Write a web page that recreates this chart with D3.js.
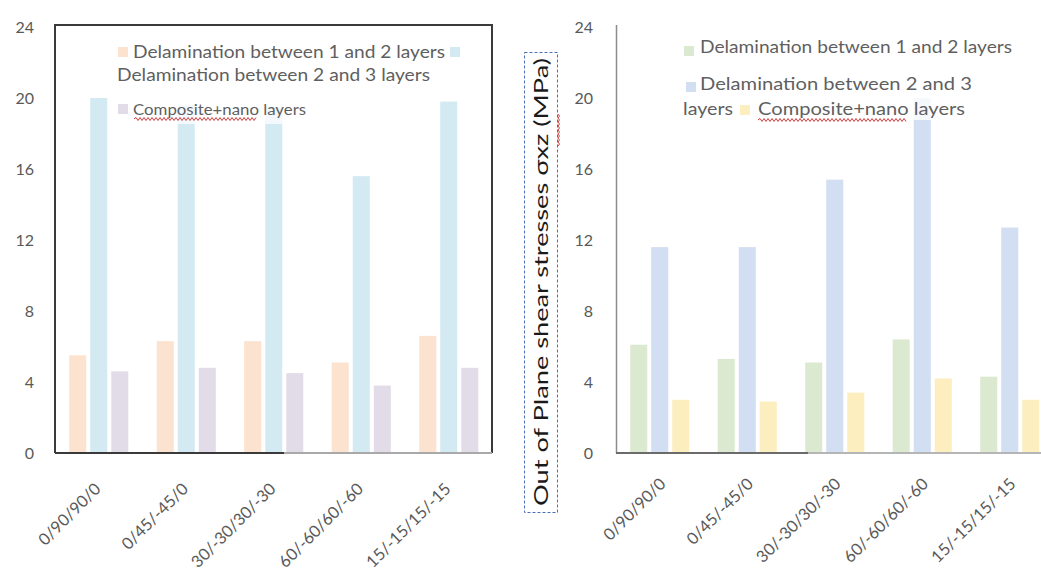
<!DOCTYPE html>
<html>
<head>
<meta charset="utf-8">
<script src="https://cdn.jsdelivr.net/npm/d3@7"></script>
<style>
  html, body { margin: 0; padding: 0; background: #fff; }
  svg { display: block; }
  text { font-family: Lato, "Open Sans", sans-serif; }
</style>
</head>
<body>
<svg id="chart" width="1041" height="573"></svg>
<script>
// Layup sequences (x categories)
const categories = ["0/90/90/0", "0/45/-45/0", "30/-30/30/-30", "60/-60/60/-60", "15/-15/15/-15"];
const seriesNames = ["Delamination between 1 and 2 layers", "Delamination between 2 and 3 layers", "Composite+nano layers"];
const yTicks = [0, 4, 8, 12, 16, 20, 24];

// Left panel values (MPa)
const leftDelam12 = [5.5, 6.3, 6.3, 5.1, 6.6];
const leftDelam23 = [20.0, 19.6, 19.5, 15.6, 19.8];
const leftNano = [4.6, 4.8, 4.5, 3.8, 4.8];

// Right panel values (MPa)
const rightDelam12 = [6.1, 5.3, 5.1, 6.4, 4.3];
const rightDelam23 = [11.6, 11.6, 15.4, 20.0, 12.7];
const rightNano = [3.0, 2.9, 3.4, 4.2, 3.0];

const leftColors = ["#fce3cf", "#d4eaf2", "#e2dce8"];
const rightColors = ["#dce9d1", "#d2def1", "#fdeec0"];

const svg = d3.select("#chart");
const y = d3.scaleLinear().domain([0, 24]).range([453, 27]);

function drawPanel(opts) {
  const g = svg.append("g");
  const x0 = d3.scaleBand().domain(categories).range(opts.xRange).padding(0);
  const x1 = d3.scaleBand().domain(seriesNames).range([0, x0.bandwidth()])
    .paddingInner(0.19).paddingOuter(0.675);

  // y tick labels (no axis line)
  const yAxis = d3.axisLeft(y).tickValues(yTicks).tickSize(0).tickPadding(0).tickFormat(d3.format("d"));
  const ya = g.append("g").attr("transform", `translate(${opts.yLabelX},0)`).call(yAxis);
  ya.select(".domain").remove();
  ya.selectAll("text").attr("fill", "#595959").style("font-size", "16px")
    .style("font-family", "Lato, sans-serif");

  const rows = categories.map((c, i) => ({ cat: c, vals: opts.data.map(arr => arr[i]) }));
  const groups = g.append("g").selectAll("g").data(rows).join("g")
    .attr("transform", d => `translate(${x0(d.cat)},0)`);
  groups.selectAll("rect").data(d => d.vals.map((v, k) => ({ v, k })))
    .join("rect")
    .attr("x", d => x1(seriesNames[d.k]))
    .attr("width", x1.bandwidth())
    .attr("y", d => y(d.v))
    .attr("height", d => y(0) - y(d.v))
    .attr("fill", d => opts.colors[d.k]);

  // x category labels, rotated
  const xAxis = d3.axisBottom(x0).tickSize(0).tickPadding(0);
  const xa = g.append("g").attr("transform", "translate(0,453)").call(xAxis);
  xa.select(".domain").remove();
  xa.selectAll("text")
    .attr("fill", "#595959").style("font-size", "16.5px")
    .style("font-family", "Lato, sans-serif")
    .attr("text-anchor", "end")
    .attr("dy", "0")
    .attr("transform", `translate(${opts.labelShift[0]},${opts.labelShift[1]}) rotate(-45)`);
  return { g, x0 };
}

// ---- Left panel ----
const left = drawPanel({ xRange: [55, 492.5], yLabelX: 34, labelShift: [3, 37],
  data: [leftDelam12, leftDelam23, leftNano], colors: leftColors });

// frame around the left plot area
left.g.append("path").attr("d", "M55,453 L55,25 L492,25 L492,453")
  .attr("fill", "none").attr("stroke", "#3a3a3a").attr("stroke-width", 2);
left.g.append("line").attr("x1", 55).attr("x2", 284).attr("y1", 453).attr("y2", 453)
  .attr("stroke", "#3a3a3a").attr("stroke-width", 2);
left.g.append("line").attr("x1", 284).attr("x2", 492).attr("y1", 453).attr("y2", 453)
  .attr("stroke", "#a9a9a9").attr("stroke-width", 2);

// ---- Right panel ----
const right = drawPanel({ xRange: [616, 1053.5], yLabelX: 593, labelShift: [7, 32],
  data: [rightDelam12, rightDelam23, rightNano], colors: rightColors });
right.g.append("line").attr("x1", 616.5).attr("x2", 616.5).attr("y1", 25).attr("y2", 453)
  .attr("stroke", "#8c8c8c").attr("stroke-width", 1.5);
right.g.append("line").attr("x1", 616).attr("x2", 808).attr("y1", 453).attr("y2", 453)
  .attr("stroke", "#6b6b6b").attr("stroke-width", 2);
right.g.append("line").attr("x1", 808).attr("x2", 1041).attr("y1", 453).attr("y2", 453)
  .attr("stroke", "#b5b5b5").attr("stroke-width", 2);

// ---- Legends ----
function wavy(x1, x2, yy) {
  let d = `M${x1},${yy}`;
  for (let x = x1, up = true; x < x2; x += 2, up = !up) d += ` L${x + 2},${yy + (up ? -1.5 : 1.5)}`;
  return d;
}
function legendText(g, str, x, yy, len, size) {
  return g.append("text").attr("x", x).attr("y", yy).text(str)
    .attr("fill", "#5f5f5f").style("font-size", size + "px")
    .attr("textLength", len).attr("lengthAdjust", "spacingAndGlyphs");
}
function swatch(g, x, yy, c) {
  g.append("rect").attr("x", x).attr("y", yy).attr("width", 10).attr("height", 10).attr("fill", c);
}

const lg = svg.append("g");
lg.append("rect").attr("x", 113).attr("y", 38).attr("width", 324).attr("height", 86)
  .attr("fill", "#fff").attr("opacity", 0.72);
swatch(lg, 118, 47, leftColors[0]);
legendText(lg, seriesNames[0], 133, 58, 312, 17);
swatch(lg, 450, 47, leftColors[1]);
legendText(lg, seriesNames[1], 117, 81, 313, 17);
swatch(lg, 118, 104, leftColors[2]);
legendText(lg, seriesNames[2], 133, 115, 173, 15);
lg.append("path").attr("d", wavy(134, 256, 119)).attr("fill", "none")
  .attr("stroke", "#d04040").attr("stroke-width", 1);

const rg = svg.append("g");
rg.append("rect").attr("x", 678).attr("y", 34).attr("width", 338).attr("height", 86)
  .attr("fill", "#fff").attr("opacity", 0.8);
swatch(rg, 684, 46, rightColors[0]);
legendText(rg, seriesNames[0], 700, 53, 312, 17);
swatch(rg, 686, 82, rightColors[1]);
legendText(rg, "Delamination between 2 and 3", 700, 90, 272, 17);
legendText(rg, "layers", 683, 115, 50, 17);
swatch(rg, 740, 105, rightColors[2]);
legendText(rg, seriesNames[2], 758, 115, 207, 17);
rg.append("path").attr("d", wavy(758, 906, 120)).attr("fill", "none")
  .attr("stroke", "#d04040").attr("stroke-width", 1);

// ---- Shared y-axis title in a dashed box ----
const tg = svg.append("g");
tg.append("rect").attr("x", 524.5).attr("y", 52.5).attr("width", 33).attr("height", 460)
  .attr("fill", "none").attr("stroke", "#4a6fb5").attr("stroke-width", 1).attr("stroke-dasharray", "3,2");
tg.append("text")
  .attr("transform", "translate(548,282) rotate(-90)")
  .attr("text-anchor", "middle")
  .attr("fill", "#1a1a1a").style("font-size", "19px")
  .attr("textLength", 448).attr("lengthAdjust", "spacingAndGlyphs")
  .text("Out of Plane shear stresses σxz (MPa)");
// spell-check squiggle beside "σxz"
const sq = d3.range(0, 34, 2).map((d, i) => [558 + (i % 2 ? 1.5 : 0), 114 + d]);
tg.append("path").attr("d", d3.line()(sq)).attr("fill", "none")
  .attr("stroke", "#d04040").attr("stroke-width", 1);
</script>
</body>
</html>
